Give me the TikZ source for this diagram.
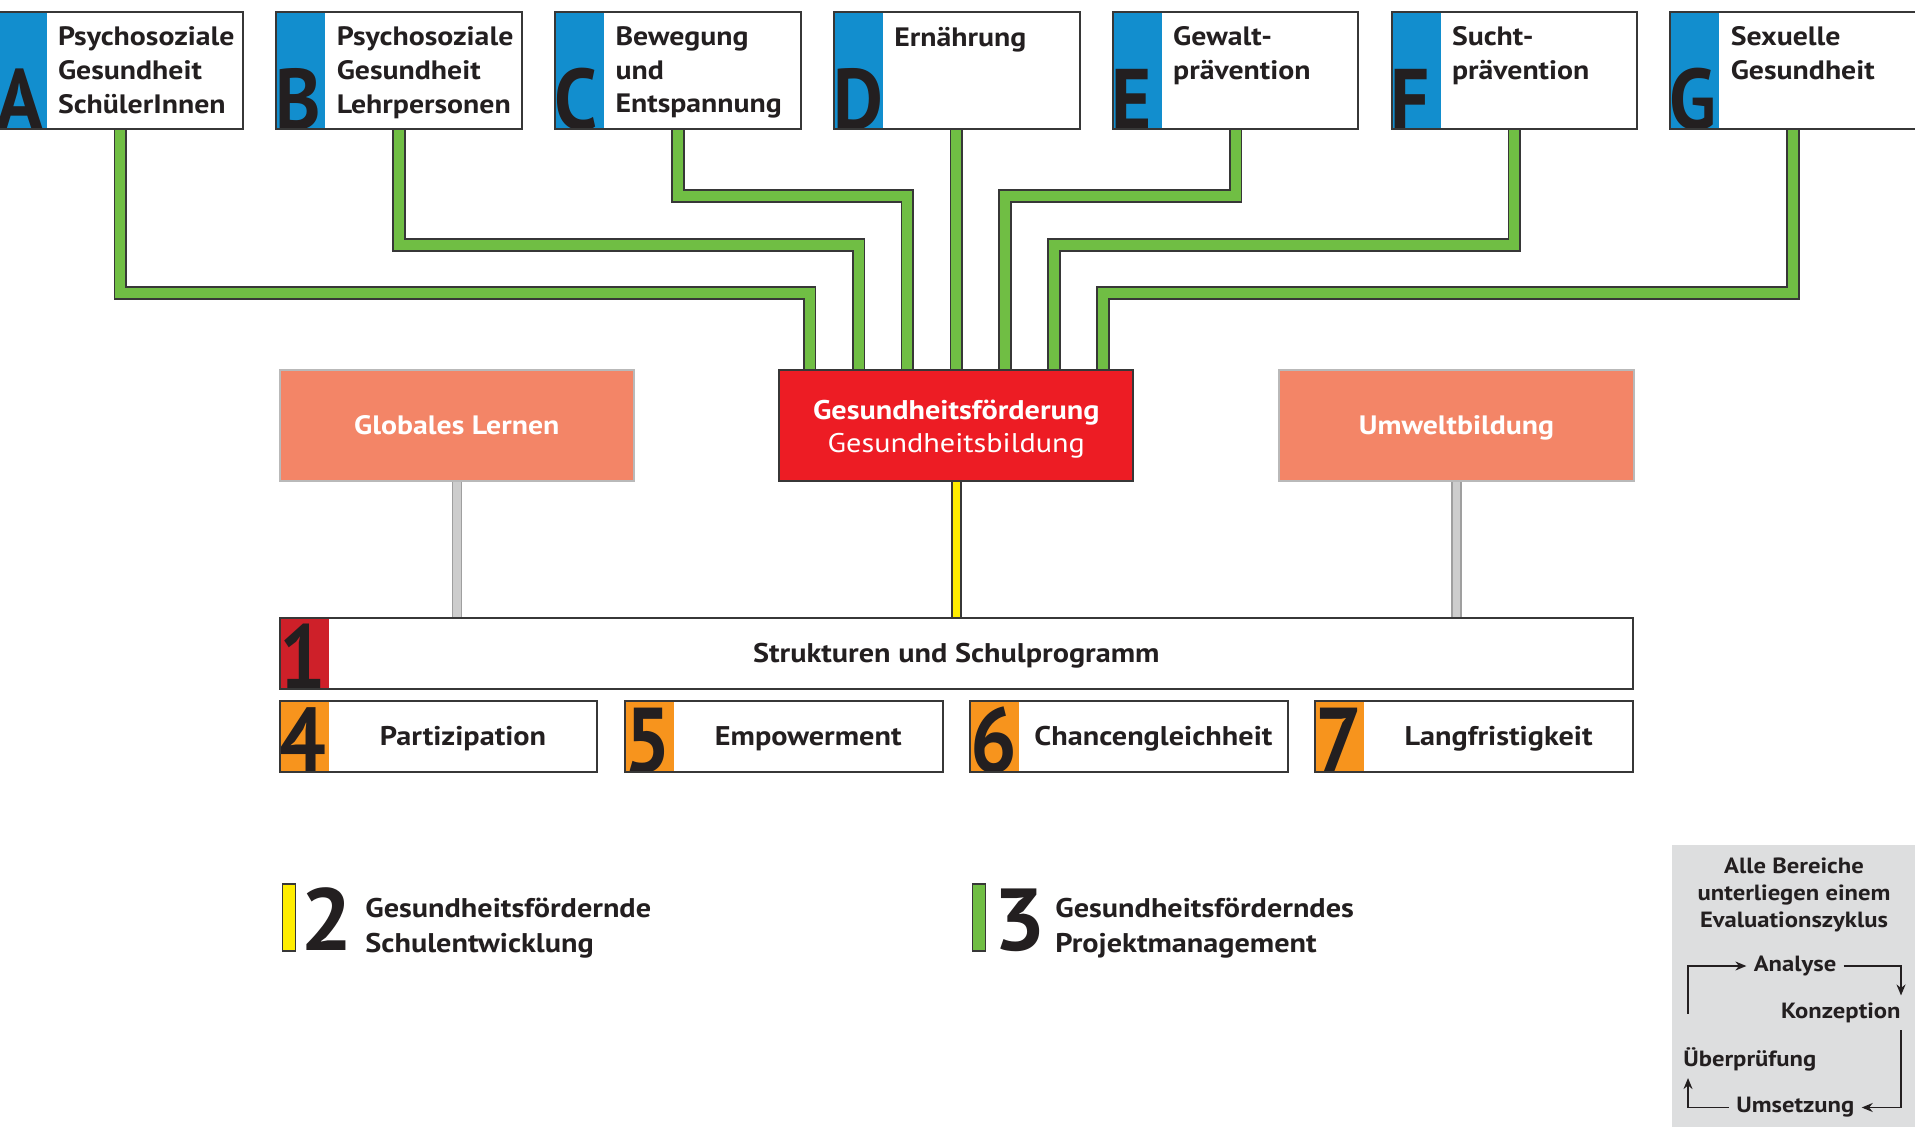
\documentclass[tikz,border=0pt]{standalone}
\usepackage{fontspec}
\setmainfont{PT Sans}[FakeStretch=1.12]
\usepackage{graphicx}
\usetikzlibrary{calc,arrows.meta}
\pgfdeclarelayer{bg}
\pgfsetlayers{bg,main}
\definecolor{cblue}{RGB}{18,142,206}
\definecolor{cgreen}{RGB}{112,190,68}
\definecolor{cred}{RGB}{237,28,36}
\definecolor{cdred}{RGB}{206,32,41}
\definecolor{csalmon}{RGB}{243,133,103}
\definecolor{corange}{RGB}{247,148,29}
\definecolor{cyellow}{RGB}{255,237,0}
\definecolor{ctext}{RGB}{35,31,32}
\definecolor{cline}{RGB}{55,55,55}
\definecolor{cgreybox}{RGB}{221,222,223}
\definecolor{cgreyline}{RGB}{205,205,205}
\newcommand\lettfont{\fontsize{43}{43}\selectfont\bfseries}
\newcommand\digfont{\fontsize{46}{46}\selectfont\bfseries}
\tikzset{
  tagbox/.style 2 args={draw=cline, line width=1pt, fill=white, inner sep=0, outer sep=0,
    anchor=north west, minimum width=122.75pt, minimum height=58.75pt,
    path picture={\fill[#1] (path picture bounding box.north west) rectangle ([xshift=24.5pt]path picture bounding box.south west);
      \node[anchor=base west, inner sep=0, draw=none, fill=none, minimum width=0pt, minimum height=0pt, text=ctext, font=\lettfont]
        at ([xshift=-0.5pt]path picture bounding box.south west) {\scalebox{0.8}[1]{#2}};}},
  numbox/.style 2 args={draw=cline, line width=1pt, fill=white, inner sep=0, outer sep=0,
    anchor=north west, minimum height=35.5pt,
    path picture={\fill[#1] (path picture bounding box.north west) rectangle ([xshift=24.5pt]path picture bounding box.south west);
      \node[anchor=base west, inner sep=0, draw=none, fill=none, minimum width=0pt, minimum height=0pt, text=ctext, font=\digfont]
        at ([xshift=0pt]path picture bounding box.south west) {\scalebox{0.8}[1]{#2}};}},
  toptext/.style={anchor=north west, align=left, inner sep=0, text=ctext, font=\fontsize{13.3}{16.8}\selectfont\bfseries},
  lbl/.style={inner sep=0, text=ctext, text height=9.4pt, text depth=0pt, font=\fontsize{13.5}{16}\selectfont\bfseries},
  salbox/.style={draw=gray!55, line width=1pt, fill=csalmon, minimum width=177.1pt, minimum height=55.5pt,
    inner sep=0, text=white, text height=9.3pt, text depth=0pt, font=\fontsize{13.3}{16}\selectfont\bfseries},
  gfbox/.style={draw=cline, line width=1pt, fill=cred, minimum width=177pt, minimum height=55.5pt, inner sep=0},
  gftext/.style={inner sep=0, text=white, align=center, font=\fontsize{13.5}{16.5}\selectfont},
  gconn/.style={draw=cline, line width=0.9pt, double=cgreen, double distance=5pt},
  greyconn/.style={draw=gray!75, line width=0.7pt, double=cgreyline, double distance=3.8pt},
  yconn/.style={draw=cline, line width=0.8pt, double=cyellow, double distance=3.8pt},
  legbar/.style={draw=cline, line width=0.8pt, anchor=north west, minimum width=6.5pt, minimum height=33.5pt, inner sep=0},
  legdig/.style={anchor=base west, inner sep=0, text=ctext, font=\fontsize{44}{44}\selectfont\bfseries},
  legtext/.style={anchor=north west, align=left, inner sep=0, text=ctext, font=\fontsize{13.5}{17.8}\selectfont\bfseries},
  cyctext/.style={inner sep=3.5pt, text=ctext, font=\fontsize{11}{13.6}\selectfont\bfseries},
  cyc/.style={draw=ctext, line width=0.75pt, -{Stealth[length=5.5pt,width=4.5pt]}},
}
\begin{document}
\begin{tikzpicture}[x=0.5pt,y=-0.5pt]
\useasboundingbox (0,0) rectangle (1915,1127);
\clip (0,0) rectangle (1915,1127);

% top boxes
\node[tagbox={cblue}{A}] (tA) at (-2.4,12) {};
\node[tagbox={cblue}{B}] (tB) at (276.4,12) {};
\node[tagbox={cblue}{C}] (tC) at (555.2,12) {};
\node[tagbox={cblue}{D}] (tD) at (834.0,12) {};
\node[tagbox={cblue}{E}] (tE) at (1112.8,12) {};
\node[tagbox={cblue}{F}] (tF) at (1391.6,12) {};
\node[tagbox={cblue}{G}] (tG) at (1670.4,12) {};
\node[toptext] (tAt) at ($(tA.north west)+(60,14.5)$) {Psychosoziale\\Gesundheit\\SchülerInnen};
\node[toptext] (tBt) at ($(tB.north west)+(60,14.5)$) {Psychosoziale\\Gesundheit\\Lehrpersonen};
\node[toptext] (tCt) at ($(tC.north west)+(60,14.5)$) {Bewegung\\und\\Entspannung};
\node[toptext] (tDt) at ($(tD.north west)+(60,14.5)$) {Ernährung};
\node[toptext] (tEt) at ($(tE.north west)+(60,14.5)$) {Gewalt-\\prävention};
\node[toptext] (tFt) at ($(tF.north west)+(60,14.5)$) {Sucht-\\prävention};
\node[toptext] (tGt) at ($(tG.north west)+(60,14.5)$) {Sexuelle\\Gesundheit};

% middle row
\node[salbox] (gl) at (456.8,425.5) {Globales Lernen};
\node[gfbox] (gf) at (956.3,425.5) {};
\node[gftext] (gft) at ($(gf.center)+(0,3.5)$) {{\bfseries Gesundheitsförderung}\\Gesundheitsbildung};
\node[salbox] (ub) at (1456.5,425.5) {Umweltbildung};

% structure bar
\node[numbox={cdred}{1}, minimum width=676.6pt] (S) at (279.7,618) {};
\node[lbl] (St) at (S.center) {Strukturen und Schulprogramm};

% bottom row
\node[numbox={corange}{4}, minimum width=158.8pt] (P4) at (279.7,701) {};
\node[numbox={corange}{5}, minimum width=158.8pt] (P5) at (624.9,701) {};
\node[numbox={corange}{6}, minimum width=158.8pt] (P6) at (970.1,701) {};
\node[numbox={corange}{7}, minimum width=158.8pt] (P7) at (1315.3,701) {};
\node[lbl] (P4t) at ($(P4.center)+(24.5,0)$) {Partizipation};
\node[lbl] (P5t) at ($(P5.center)+(24.5,0)$) {Empowerment};
\node[lbl] (P6t) at ($(P6.center)+(24.5,0)$) {Chancengleichheit};
\node[lbl] (P7t) at ($(P7.center)+(24.5,0)$) {Langfristigkeit};

% connectors
\begin{pgfonlayer}{bg}
\fill[white] (0,0) rectangle (1915,1127);
\draw[gconn] (tA.south) |- ($(gf.north)+(-146.7,-76)$) -- ($(gf.north)+(-146.7,0)$);
\draw[gconn] (tB.south) |- ($(gf.north)+(-97.8,-124)$) -- ($(gf.north)+(-97.8,0)$);
\draw[gconn] (tC.south) |- ($(gf.north)+(-48.9,-173)$) -- ($(gf.north)+(-48.9,0)$);
\draw[gconn] (gf.north |- tD.south) -- (gf.north);
\draw[gconn] (tE.south) |- ($(gf.north)+(48.9,-173)$) -- ($(gf.north)+(48.9,0)$);
\draw[gconn] (tF.south) |- ($(gf.north)+(97.8,-124)$) -- ($(gf.north)+(97.8,0)$);
\draw[gconn] (tG.south) |- ($(gf.north)+(146.7,-76)$) -- ($(gf.north)+(146.7,0)$);
\draw[greyconn] (gl.south) -- (gl.south |- S.north);
\draw[yconn] (gf.south) -- (gf.south |- S.north);
\draw[greyconn] (ub.south) -- (ub.south |- S.north);
\end{pgfonlayer}

% legend
\node[legbar, fill=cyellow] (l2b) at (281.5,883) {};
\node[legdig] (l2d) at (300,950) {\scalebox{0.94}[1]{2}};
\node[legtext] (l2t) at (365,897.5) {Gesundheitsfördernde\\Schulentwicklung};
\node[legbar, fill=cgreen] (l3b) at (971.5,883) {};
\node[legdig] (l3d) at (993,950) {\scalebox{0.94}[1]{3}};
\node[legtext] (l3t) at (1055,897.5) {Gesundheitsförderndes\\Projektmanagement};

% evaluation box
\node[fill=cgreybox, anchor=north west, minimum width=130pt, minimum height=145pt, inner sep=0] (ev) at (1672,845) {};
\node[cyctext, inner sep=0, align=center] (evt) at (1794,895) {Alle Bereiche\\unterliegen einem\\Evaluationszyklus};
\node[cyctext] (an) at (1795,966) {Analyse};
\node[cyctext, anchor=base east] (ko) at (1908,1018.5) {Konzeption};
\node[cyctext, anchor=base west] (ue) at (1676,1066) {Überprüfung};
\node[cyctext] (um) at (1795.3,1107.5) {Umsetzung};
\coordinate (cstart) at (1688,1013.7);
\draw[cyc] (cstart) |- (an.west);
\draw[cyc] (an.east) -| ([xshift=-3.5pt]ko.north east);
\draw[cyc] ([xshift=-3.5pt]ko.south east) |- (um.east);
\draw[cyc] (um.west) -| ([xshift=6pt]ue.south west);
\end{tikzpicture}
\end{document}
